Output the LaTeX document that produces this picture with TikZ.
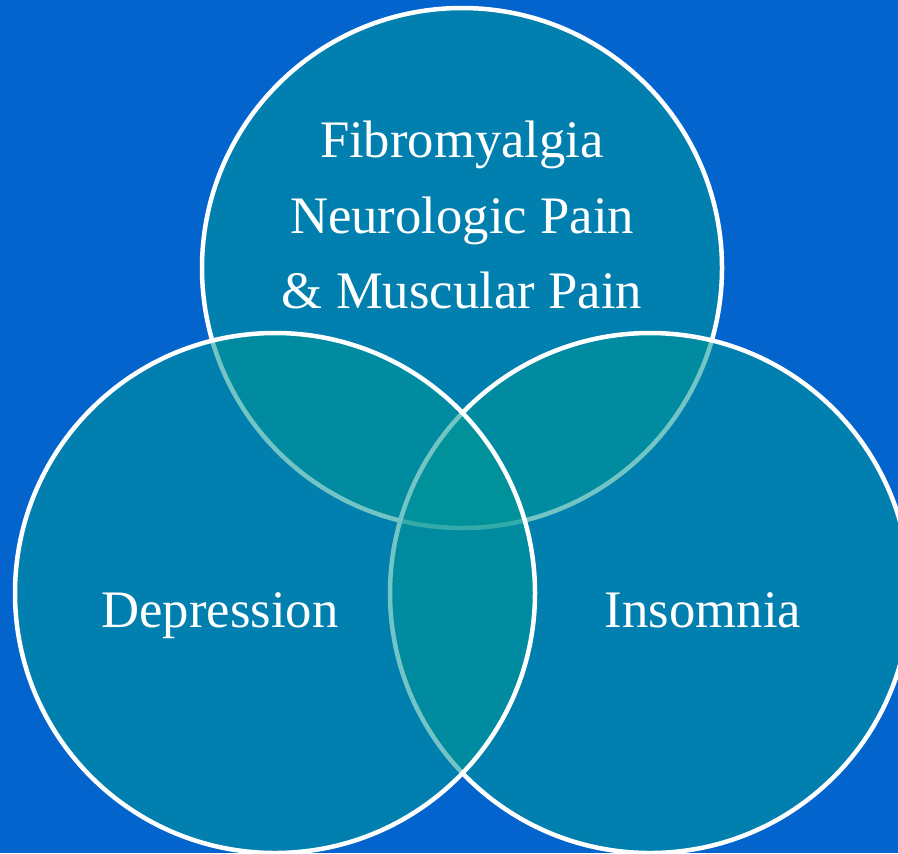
\documentclass[tikz,border=0pt]{standalone}
\usepackage{fontspec}
\setmainfont{Liberation Serif}
\definecolor{bgblue}{RGB}{3,100,205}
\definecolor{venn}{RGB}{0,150,150}

\begin{document}
\begin{tikzpicture}[x=0.02cm, y=-0.02cm,
    ring/.style={fill=venn, fill opacity=0.55, draw=white, draw opacity=1, line width=0.09cm},
    label/.style={font=\fontsize{30}{43}\selectfont, text=white, align=center, inner sep=0pt},
  ]

  % ---------------- canvas ------------------------------------------------
  \useasboundingbox (0,0) rectangle (898,853);
  \clip (0,0) rectangle (898,853);
  \fill[bgblue] (0,0) rectangle (898,853);

  % ---------------- geometry ----------------------------------------------
  \def\R{260}                                       % radius of each circle
  \path (462,268) coordinate (cTop)
        (275,593) coordinate (cLeft)
        (650,593) coordinate (cRight);

  % ---------------- the three circles (order matters for the outlines) ----
  \filldraw[ring] (cTop)   circle (\R);
  \filldraw[ring] (cRight) circle (\R);
  \filldraw[ring] (cLeft)  circle (\R);

  % ---------------- names of the sets -------------------------------------
  \node[label] (fibro) at (462,215) {Fibromyalgia\\Neurologic Pain\\\& Muscular Pain};
  \node[label, anchor=base] (depr)  at (220,627) {Depression};
  \node[label, anchor=base] (insom) at (703,627) {Insomnia};

\end{tikzpicture}
\end{document}
